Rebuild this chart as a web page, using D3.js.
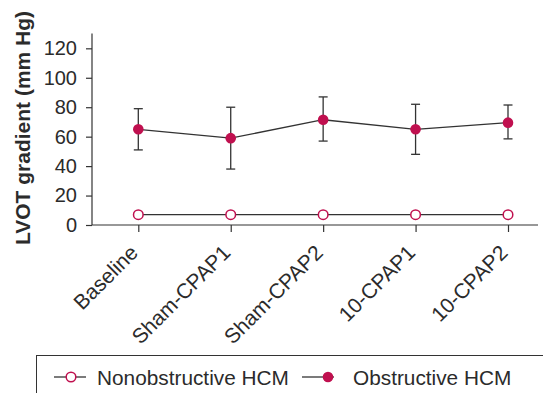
<!DOCTYPE html>
<html>
<head>
<meta charset="utf-8">
<script src="https://cdn.jsdelivr.net/npm/d3@7"></script>
<style>
  body { margin: 0; background: #fff; }
  svg { display: block; font-family: "Liberation Sans", Arial, Helvetica, sans-serif; }
</style>
</head>
<body>
<svg id="chart" width="543" height="393"></svg>
<script>
// chart data
let categories = ["Baseline", "Sham-CPAP1", "Sham-CPAP2", "10-CPAP1", "10-CPAP2"];
let obstructive = [65, 59, 71.5, 65, 69.5];
let obstructiveHigh = [79, 80, 87, 82, 81.5];
let obstructiveLow = [51, 38, 57, 48, 58.5];
let nonobstructive = [7, 7, 7, 7, 7];
let yTicks = [0, 20, 40, 60, 80, 100, 120];
let seriesNames = ["Nonobstructive HCM", "Obstructive HCM"];

function drawChart(svgId) {
  let svg = d3.select(svgId);

  let textColor = "#2b2b2b";
  let lineColor = "#333333";
  let markColor = "#c0104f";

  let axisLeft = 92;
  let axisRight = 538;
  let axisBottom = 225;
  let axisTop = 33.6;

  let x = d3.scalePoint()
    .domain(categories)
    .range([138.3, 508]);

  let y = d3.scaleLinear()
    .domain([0, 130])
    .range([axisBottom, axisTop]);

  // y axis
  let yAxis = svg.append("g")
    .attr("transform", "translate(" + axisLeft + ",0)")
    .call(d3.axisLeft(y).tickValues(yTicks).tickSize(6).tickPadding(9));
  yAxis.select(".domain").attr("d", "M0," + axisTop + "V" + axisBottom);
  yAxis.selectAll("line, path").attr("stroke", lineColor).attr("stroke-width", 1.2);
  yAxis.selectAll("text")
    .attr("fill", textColor)
    .style("font-size", "20px")
    .style("font-family", "Liberation Sans, Arial, sans-serif");

  // x axis
  let xAxis = svg.append("g")
    .attr("transform", "translate(0," + axisBottom + ")")
    .call(d3.axisBottom(x).tickSize(7).tickFormat(""));
  xAxis.select(".domain").attr("d", "M" + axisLeft + ",0H" + axisRight);
  xAxis.selectAll("line, path").attr("stroke", lineColor).attr("stroke-width", 1.2);

  svg.append("g").selectAll("text")
    .data(categories)
    .enter()
    .append("text")
    .attr("transform", d => "translate(" + (x(d) + 1) + "," + (axisBottom + 29) + ") rotate(-45)")
    .attr("text-anchor", "end")
    .attr("fill", textColor)
    .style("font-size", "21px")
    .text(d => d);

  // y title
  svg.append("text")
    .attr("transform", "translate(30," + 128 + ") rotate(-90)")
    .attr("text-anchor", "middle")
    .attr("fill", textColor)
    .style("font-size", "21px")
    .style("font-weight", "bold")
    .text("LVOT gradient (mm Hg)");

  let line = d3.line()
    .x((d, i) => x(categories[i]))
    .y(d => y(d));

  // nonobstructive
  svg.append("path")
    .attr("d", line(nonobstructive))
    .attr("fill", "none")
    .attr("stroke", lineColor)
    .attr("stroke-width", 1.3);

  // obstructive error bars
  let bars = svg.append("g").selectAll("g")
    .data(categories)
    .enter()
    .append("g");
  bars.append("line")
    .attr("x1", d => x(d)).attr("x2", d => x(d))
    .attr("y1", (d, i) => y(obstructiveHigh[i]))
    .attr("y2", (d, i) => y(obstructiveLow[i]))
    .attr("stroke", lineColor).attr("stroke-width", 1.3);
  bars.append("line")
    .attr("x1", d => x(d) - 4.5).attr("x2", d => x(d) + 4.5)
    .attr("y1", (d, i) => y(obstructiveHigh[i]))
    .attr("y2", (d, i) => y(obstructiveHigh[i]))
    .attr("stroke", lineColor).attr("stroke-width", 1.3);
  bars.append("line")
    .attr("x1", d => x(d) - 4.5).attr("x2", d => x(d) + 4.5)
    .attr("y1", (d, i) => y(obstructiveLow[i]))
    .attr("y2", (d, i) => y(obstructiveLow[i]))
    .attr("stroke", lineColor).attr("stroke-width", 1.3);

  svg.append("path")
    .attr("d", line(obstructive))
    .attr("fill", "none")
    .attr("stroke", lineColor)
    .attr("stroke-width", 1.3);

  // markers
  svg.selectAll(".openDot")
    .data(nonobstructive)
    .enter()
    .append("circle")
    .attr("cx", (d, i) => x(categories[i]))
    .attr("cy", d => y(d))
    .attr("r", 4.8)
    .attr("fill", "#fff")
    .attr("stroke", markColor)
    .attr("stroke-width", 1.5);

  svg.selectAll(".fullDot")
    .data(obstructive)
    .enter()
    .append("circle")
    .attr("cx", (d, i) => x(categories[i]))
    .attr("cy", d => y(d))
    .attr("r", 5.3)
    .attr("fill", markColor);

  // legend
  svg.append("rect")
    .attr("x", 36.5).attr("y", 355.5)
    .attr("width", 600).attr("height", 100)
    .attr("fill", "none")
    .attr("stroke", lineColor)
    .attr("stroke-width", 1);

  let legendY = 377;
  let legendItems = [
    {name: seriesNames[0], x0: 54, open: true, tx: 97},
    {name: seriesNames[1], x0: 302, open: false, tx: 353}
  ];
  legendItems.forEach(function(item) {
    svg.append("line")
      .attr("x1", item.x0).attr("x2", item.x0 + 32)
      .attr("y1", legendY).attr("y2", legendY)
      .attr("stroke", lineColor).attr("stroke-width", 1.3);
    svg.append("circle")
      .attr("cx", item.open ? item.x0 + 17 : item.x0 + 26)
      .attr("cy", legendY)
      .attr("r", item.open ? 4.8 : 5.3)
      .attr("fill", item.open ? "#fff" : markColor)
      .attr("stroke", item.open ? markColor : "none")
      .attr("stroke-width", 1.5);
    svg.append("text")
      .attr("x", item.tx)
      .attr("y", legendY + 7.5)
      .attr("fill", textColor)
      .style("font-size", "20.8px")
      .text(item.name);
  });
}

drawChart("#chart");
</script>
</body>
</html>
